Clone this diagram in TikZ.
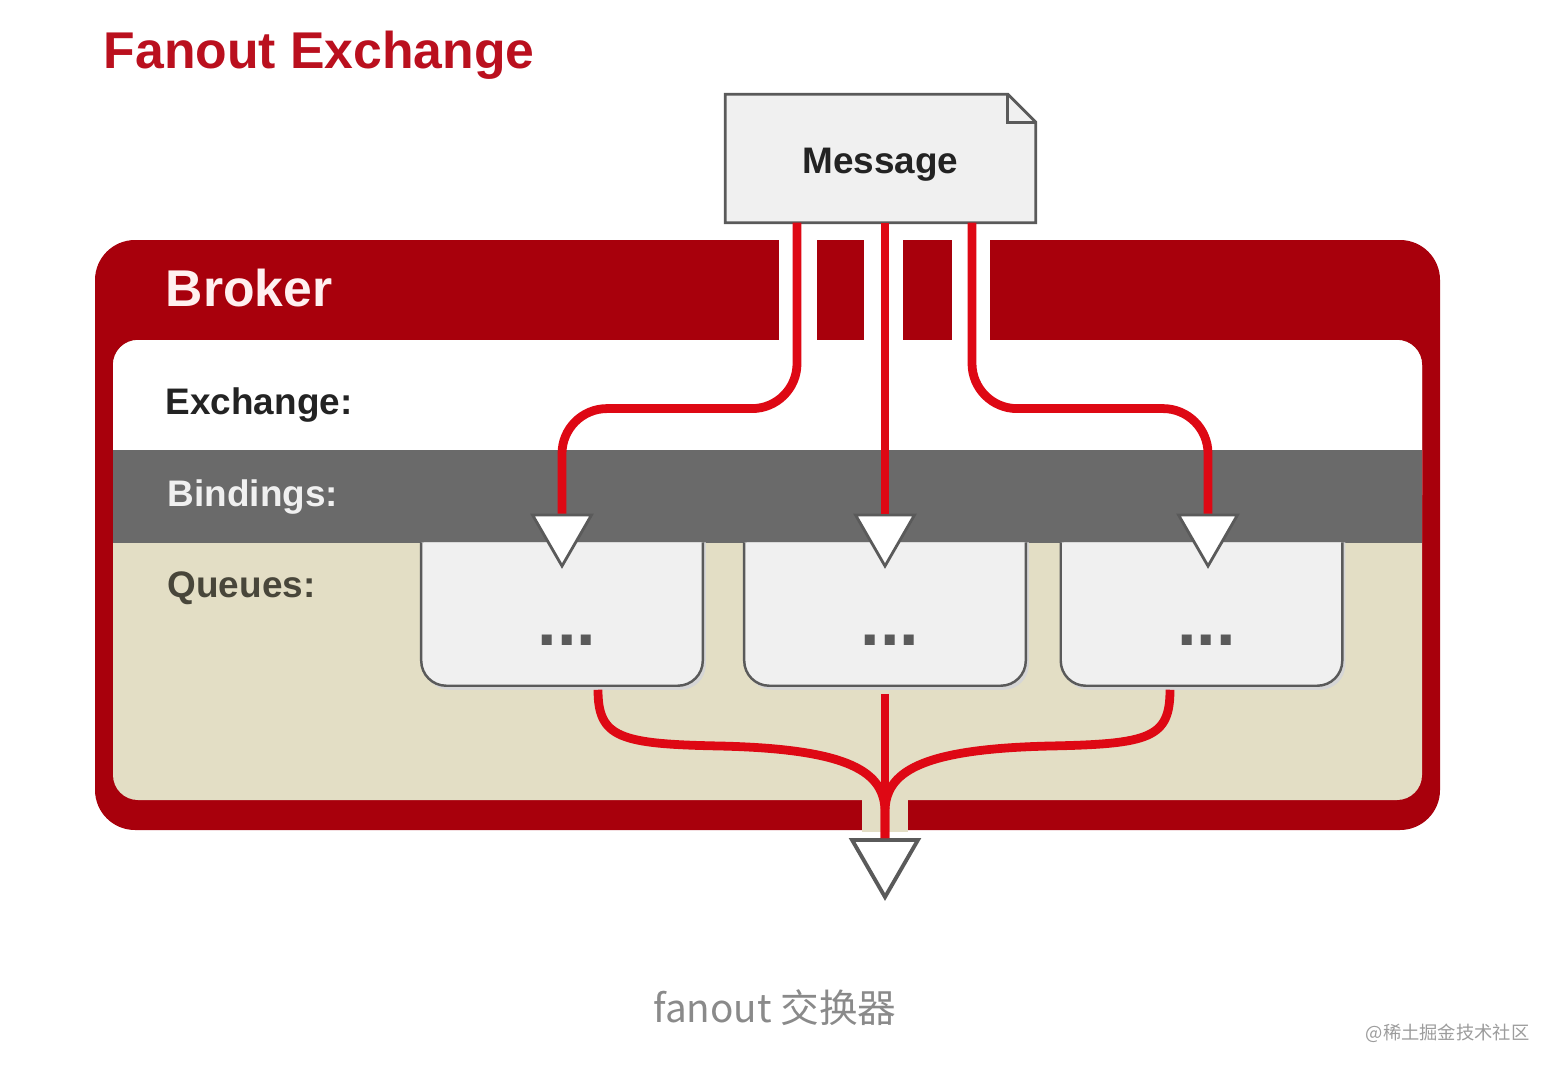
\documentclass[tikz,border=0pt]{standalone}
\usepackage{fontspec}
\setmainfont{Liberation Sans}
\newfontfamily\cjk{Noto Sans CJK SC}
\usepackage{tikz}
\usetikzlibrary{shapes.geometric, calc, backgrounds}
\definecolor{brokerred}{RGB}{168,0,12}
\definecolor{flowred}{RGB}{222,8,20}
\definecolor{titlered}{RGB}{186,16,30}
\definecolor{bindgray}{RGB}{106,106,106}
\definecolor{queuebeige}{RGB}{227,222,197}
\definecolor{boxgray}{RGB}{240,240,240}
\definecolor{edgegray}{RGB}{90,90,90}
\definecolor{textdark}{RGB}{35,35,35}
\definecolor{textolive}{RGB}{72,70,58}
\definecolor{captiongray}{RGB}{138,138,138}
\tikzset{
  rowlabel/.style={anchor=west, inner sep=0pt, font=\fontsize{10.5}{12}\selectfont\bfseries},
  headlabel/.style={anchor=west, inner sep=0pt, font=\fontsize{14.7}{17}\selectfont\bfseries},
  qbox/.style={fill=boxgray, draw=edgegray, line width=0.7pt, rounded corners=0.25cm},
  tri/.style={regular polygon, regular polygon sides=3, shape border rotate=180,
    fill=white, draw=edgegray, line width=0.8pt, inner sep=0pt, minimum size=0.68cm},
  flow/.style={color=flowred, line width=2.5pt}
}

\begin{document}
\begin{tikzpicture}[x=0.01cm, y=-0.01cm,
  queue/.style={minimum width=2.8cm, minimum height=1.42cm, inner sep=0pt,
    text height=0.62cm, text depth=0pt, font=\fontsize{20}{20}\selectfont\bfseries, text=edgegray}]
  \useasboundingbox (0,0) rectangle (1558,1070);

  % Nodes
  \node[headlabel, text=titlered] (title) at (103,55) {Fanout Exchange};
  \node[minimum width=3.09cm, minimum height=1.27cm, inner sep=0pt, text height=0.3cm, text depth=0pt,
    font=\fontsize{10.5}{12}\selectfont\bfseries, text=textdark] (msg) at (880.5,158.5) {Message};

  \node[headlabel, text=white!94!red] (broker) at (165,288) {Broker};
  \node[rowlabel, text=textdark] (exch) at (165,405) {Exchange:};
  \node[rowlabel, text=white!94!black] (bind) at (167,497) {Bindings:};
  \node[rowlabel, text=textolive] (queues) at (167,588) {Queues:};

  \node[queue] (q1) at (562,614) {\hspace{0.1cm}...};
  \node[queue] (q2) at (885,614) {\hspace{0.1cm}...};
  \node[queue] (q3) at (1201.5,614) {\hspace{0.1cm}...};

  \node[tri] (t1) at (562,532) {};
  \node[tri] (t2) at (885,532) {};
  \node[tri] (t3) at (1208,532) {};
  \node[tri, minimum size=0.76cm, line width=1.1pt] (tout) at (885,859) {};

  \node[font=\cjk\fontsize{11}{13}\selectfont, text=captiongray] (caption) at (775,1008) {fanout 交换器};
  \node[anchor=east, inner sep=0pt, font=\cjk\fontsize{5.2}{6}\selectfont, text=captiongray!85] (mark) at (1530,1033) {@稀土掘金技术社区};

  \coordinate (m1) at ($(msg.south)+(-83.5,0)$);
  \coordinate (m2) at ($(msg.south)+(4.5,0)$);
  \coordinate (m3) at ($(msg.south)+(91.5,0)$);
  \coordinate (b1) at ($(q1.south)+(36,4)$);
  \coordinate (b2) at ($(q2.south)+(0,8)$);
  \coordinate (b3) at ($(q3.south)+(-31.5,4)$);

  % Frame and boxes
  \begin{scope}[on background layer]
    \fill[brokerred, rounded corners=0.4cm] (95,240) rectangle (1440,830);
    \fill[queuebeige, rounded corners=0.25cm] (113,340) rectangle (1422,800);
    \fill[white, rounded corners=0.25cm] (113,340) rectangle (1422,520);
    \fill[bindgray] (113,450) rectangle (1422,543);
    \foreach \xa/\xb in {779/817, 864/903, 952/990}
      \fill[white] (\xa,236) rectangle (\xb,340);
    \fill[queuebeige] (862,798) rectangle (908,832);

    \foreach \q in {q1,q2,q3} {
      \fill[black!16, rounded corners=0.25cm] ($(\q.north west)+(3,0)$) -- ($(\q.south west)+(3,4)$)
        -- ($(\q.south east)+(3,4)$) -- ($(\q.north east)+(3,0)$);
      \draw[qbox] (\q.north west) -- (\q.south west) -- (\q.south east) -- (\q.north east);
    }

    \draw[fill=boxgray, draw=edgegray, line width=0.8pt] (msg.north west) -- ($(msg.north east)+(-28,0)$)
      -- ($(msg.north east)+(0,28)$) -- (msg.south east) -- (msg.south west) -- cycle;
    \draw[edgegray, line width=0.8pt] ($(msg.north east)+(-28,0)$) -- ++(0,28) -- ($(msg.north east)+(0,28)$);
  \end{scope}

  % Connections
  \draw[flow, rounded corners=0.45cm] (m1) |- ($(t1.north)+(0,-105)$) -- (t1.north);
  \draw[flow] (m2) -- (t2.north);
  \draw[flow, rounded corners=0.45cm] (m3) |- ($(t3.north)+(0,-105)$) -- (t3.north);

  \draw[flow] (b1) .. controls (598,738) and (620,744) .. (720,746)
    .. controls (850,749) and (885,772) .. (885,812) -- (tout.north);
  \draw[flow] (b3) .. controls (1170,738) and (1150,744) .. (1050,746)
    .. controls (920,749) and (885,772) .. (885,812) -- (tout.north);
  \draw[flow] (b2) -- (tout.north);

\end{tikzpicture}
\end{document}
